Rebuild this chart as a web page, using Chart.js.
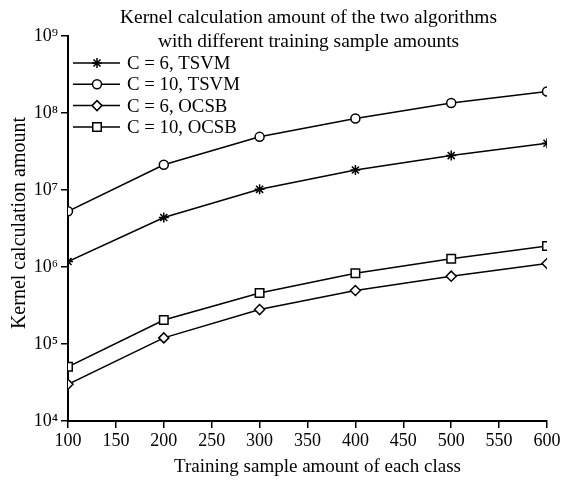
<!DOCTYPE html>
<html><head><meta charset="utf-8">
<script src="https://cdn.jsdelivr.net/npm/chart.js@4.4.0/dist/chart.umd.min.js"></script>
<style>html,body{margin:0;padding:0;background:#fff}#wrap{width:563px;height:480px;position:relative}</style>
</head><body><div id="wrap"><canvas id="c" width="563" height="480"></canvas></div>
<script>
const titleLines = ['Kernel calculation amount of the two algorithms', 'with different training sample amounts'];
const xLabel = 'Training sample amount of each class';
const yLabel = 'Kernel calculation amount';
const sampleAmounts = [100, 200, 300, 400, 500, 600];
const xTicks = [100, 150, 200, 250, 300, 350, 400, 450, 500, 550, 600];
const yTicks = [1e4, 1e5, 1e6, 1e7, 1e8, 1e9];
const yTickLabels = ['10\u2074', '10\u2075', '10\u2076', '10\u2077', '10\u2078', '10\u2079'];
const seriesNames = ['C = 6, TSVM', 'C = 10, TSVM', 'C = 6, OCSB', 'C = 10, OCSB'];
const c6tsvm = [1.18e6, 4.4e6, 1.02e7, 1.82e7, 2.8e7, 4.05e7];
const c10tsvm = [5.3e6, 2.13e7, 4.9e7, 8.5e7, 1.35e8, 1.9e8];
const c6ocsb = [3.0e4, 1.2e5, 2.8e5, 4.95e5, 7.6e5, 1.11e6];
const c10ocsb = [5.06e4, 2.05e5, 4.6e5, 8.3e5, 1.28e6, 1.87e6];

const FONT = "'Liberation Serif', 'Times New Roman', serif";
const seriesValues = [c6tsvm, c10tsvm, c6ocsb, c10ocsb];
const styles = [
  {pointStyle: 'star', radius: 5},
  {pointStyle: 'circle', radius: 4.5},
  {pointStyle: 'rectRot', radius: 5},
  {pointStyle: 'rect', radius: 6}
];

const datasets = seriesNames.map((name, i) => ({
  label: name,
  data: sampleAmounts.map((x, j) => ({x: x, y: seriesValues[i][j]})),
  borderColor: '#000',
  borderWidth: 1.5,
  pointStyle: styles[i].pointStyle,
  pointRadius: styles[i].radius,
  pointBackgroundColor: '#fff',
  pointBorderColor: '#000',
  pointBorderWidth: 1.5,
  fill: false,
  tension: 0
}));

const textPlugin = {
  id: 'texts',
  afterDraw(chart) {
    const ctx = chart.ctx, a = chart.chartArea;
    ctx.save();
    ctx.fillStyle = '#000';
    ctx.font = '19.4px ' + FONT;
    ctx.textAlign = 'center';
    ctx.textBaseline = 'middle';
    const cx = (a.left + a.right) / 2;
    titleLines.forEach((t, i) => ctx.fillText(t, cx + 1, 18 + i * 24));
    ctx.font = '19px ' + FONT;
    ctx.fillText(xLabel, cx + 10, 467);
    ctx.translate(25, 223);
    ctx.rotate(-Math.PI / 2);
    ctx.font = '20px ' + FONT;
    ctx.textBaseline = 'alphabetic';
    ctx.fillText(yLabel, 0, 0);
    ctx.restore();
  }
};

const legendPlugin = {
  id: 'lineLegend',
  afterDraw(chart) {
    const ctx = chart.ctx, a = chart.chartArea;
    ctx.save();
    chart.data.datasets.forEach((ds, i) => {
      const y = a.top + 27 + i * 21.3;
      const x0 = a.left + 5, x1 = a.left + 52, xm = a.left + 29;
      ctx.strokeStyle = '#000';
      ctx.lineWidth = 1.5;
      ctx.beginPath(); ctx.moveTo(x0, y); ctx.lineTo(x1, y); ctx.stroke();
      ctx.fillStyle = '#fff';
      ctx.strokeStyle = '#000';
      Chart.helpers.drawPoint(ctx, {pointStyle: ds.pointStyle, radius: ds.pointRadius, rotation: 0, borderWidth: 1.5}, xm, y);
      ctx.fillStyle = '#000';
      ctx.font = '18.8px ' + FONT;
      ctx.textAlign = 'left';
      ctx.textBaseline = 'middle';
      ctx.fillText(ds.label, a.left + 59, y + 1);
    });
    ctx.restore();
  }
};

new Chart(document.getElementById('c'), {
  type: 'line',
  data: {datasets: datasets},
  options: {
    responsive: false,
    animation: false,
    devicePixelRatio: 1,
    layout: {padding: {top: 36, right: 16, left: 0, bottom: 0}},
    plugins: {legend: {display: false}, title: {display: false}, tooltip: {enabled: false}},
    scales: {
      x: {
        type: 'linear', min: 100, max: 600,
        afterBuildTicks: s => { s.ticks = xTicks.map(v => ({value: v})); },
        afterFit: s => { s.height = 59; },
        ticks: {color: '#000', font: {family: FONT, size: 18}, padding: 2, maxRotation: 0, autoSkip: false},
        grid: {display: true, drawOnChartArea: false, drawTicks: true, tickLength: 7, color: '#000', lineWidth: 1.5},
        border: {display: true, color: '#000', width: 2},
        title: {display: false}
      },
      y: {
        type: 'logarithmic', min: 1e4, max: 1e9,
        afterBuildTicks: s => { s.ticks = yTicks.map(v => ({value: v})); },
        afterFit: s => { s.width = 68; },
        ticks: {color: '#000', font: {family: FONT, size: 18}, padding: 3, autoSkip: false,
          callback: v => yTickLabels[yTicks.indexOf(v)]},
        grid: {display: true, drawOnChartArea: false, drawTicks: true, tickLength: 7, color: '#000', lineWidth: 1.5},
        border: {display: true, color: '#000', width: 2},
        title: {display: false}
      }
    }
  },
  plugins: [textPlugin, legendPlugin]
});
</script></body></html>
